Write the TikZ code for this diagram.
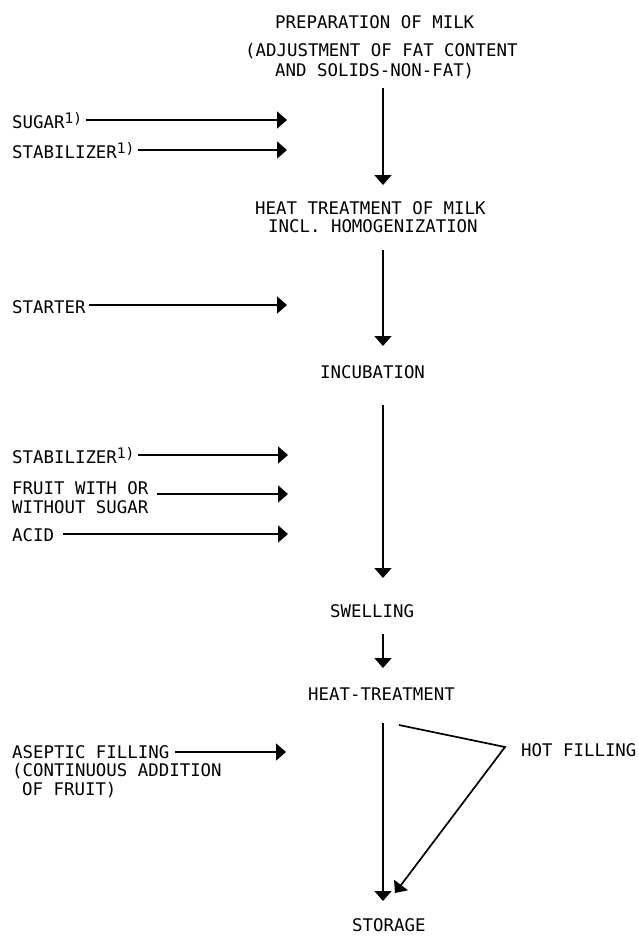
\documentclass[tikz,border=0pt]{standalone}
\usepackage{fontspec}
\setmonofont{DejaVu Sans Mono}
\usetikzlibrary{arrows.meta,calc}
\newcommand\fnote{\raisebox{5pt}{\fontsize{14.5}{15}\selectfont 1)}}
\begin{document}
\begin{tikzpicture}[x=1pt,y=-1pt,
  lbl/.style={font=\ttfamily\fontsize{17.4}{19}\selectfont, inner sep=0pt,
    text height=12.6pt, text depth=0pt, anchor=west},
  arr/.style={line width=1.7pt, line join=miter, -{Triangle[length=10pt,width=17pt]}}]
\useasboundingbox[fill=white] (0,0) rectangle (638,938);
\coordinate (axis) at (383,0);

% main column
\node[lbl] (prep)  at (275,22.5) {PREPARATION OF MILK};
\node[lbl] (adjA)  at (245,50)   {(ADJUSTMENT OF FAT CONTENT};
\node[lbl] (adjB)  at (275,70.5) {AND SOLIDS-NON-FAT)};
\node[lbl] (heatA) at (255,208)  {HEAT TREATMENT OF MILK};
\node[lbl] (heatB) at (268,226)  {INCL. HOMOGENIZATION};
\node[lbl] (incub) at (320,372)  {INCUBATION};
\node[lbl] (swell) at (330,611)  {SWELLING};
\node[lbl] (heatT) at (308,694)  {HEAT-TREATMENT};
\node[lbl] (store) at (352,925.5) {STORAGE};

% left additions
\node[lbl] (sugar)   at (12,122) {SUGAR\fnote};
\node[lbl] (stab1)   at (12,152) {STABILIZER\fnote};
\node[lbl] (starter) at (12,307) {STARTER};
\node[lbl] (stab2)   at (12,457) {STABILIZER\fnote};
\node[lbl] (fruitA)  at (12,488) {FRUIT WITH OR};
\node[lbl] (fruitB)  at (12,507) {WITHOUT SUGAR};
\node[lbl] (acid)    at (12,535) {ACID};
\node[lbl] (asepA)   at (12,752) {ASEPTIC FILLING};
\node[lbl] (asepB)   at (12,770) {(CONTINUOUS ADDITION};
\node[lbl] (asepC)   at (22,789) {OF FRUIT)};
\node[lbl] (hot)     at (521,750) {HOT FILLING};

% end points of the side arrows
\coordinate (sugarE)   at (287,120);
\coordinate (stab1E)   at (287,150);
\coordinate (starterE) at (287,305);
\coordinate (stab2E)   at (288,455);
\coordinate (fruitE)   at (288,494);
\coordinate (acidE)    at (288,534);
\coordinate (asepE)    at (286,752);
\coordinate (hotC)     at (505,747);

\draw[arr] ([xshift=4pt]sugar.east |- sugarE) -- (sugarE);
\draw[arr] ([xshift=3pt]stab1.east |- stab1E) -- (stab1E);
\draw[arr] ([xshift=3pt]starter.east |- starterE) -- (starterE);
\draw[arr] ([xshift=3pt]stab2.east |- stab2E) -- (stab2E);
\draw[arr] ([xshift=8pt]fruitA.east |- fruitE) -- (fruitE);
\draw[arr] ([xshift=9pt]acid.east |- acidE) -- (acidE);
\draw[arr] ([xshift=5pt]asepA.east |- asepE) -- (asepE);

% main flow
\draw[arr] ($(adjB.center -| axis)+(0,17.5)$) -- ($(heatA.center -| axis)+(0,-23)$);
\draw[arr] ($(heatB.center -| axis)+(0,24)$) -- ($(incub.center -| axis)+(0,-26)$);
\draw[arr] ($(incub.center -| axis)+(0,33)$) -- ($(swell.center -| axis)+(0,-33)$);
\draw[arr] ($(swell.center -| axis)+(0,23)$) -- ($(heatT.center -| axis)+(0,-26)$);
\draw[arr] ($(heatT.center -| axis)+(0,29)$) -- ($(store.center -| axis)+(0,-24.5)$);
\draw[arr] ($(heatT.center -| axis)+(16,31)$) -- (hotC) -- ($(store.center -| axis)+(12,-32.5)$);
\end{tikzpicture}
\end{document}
